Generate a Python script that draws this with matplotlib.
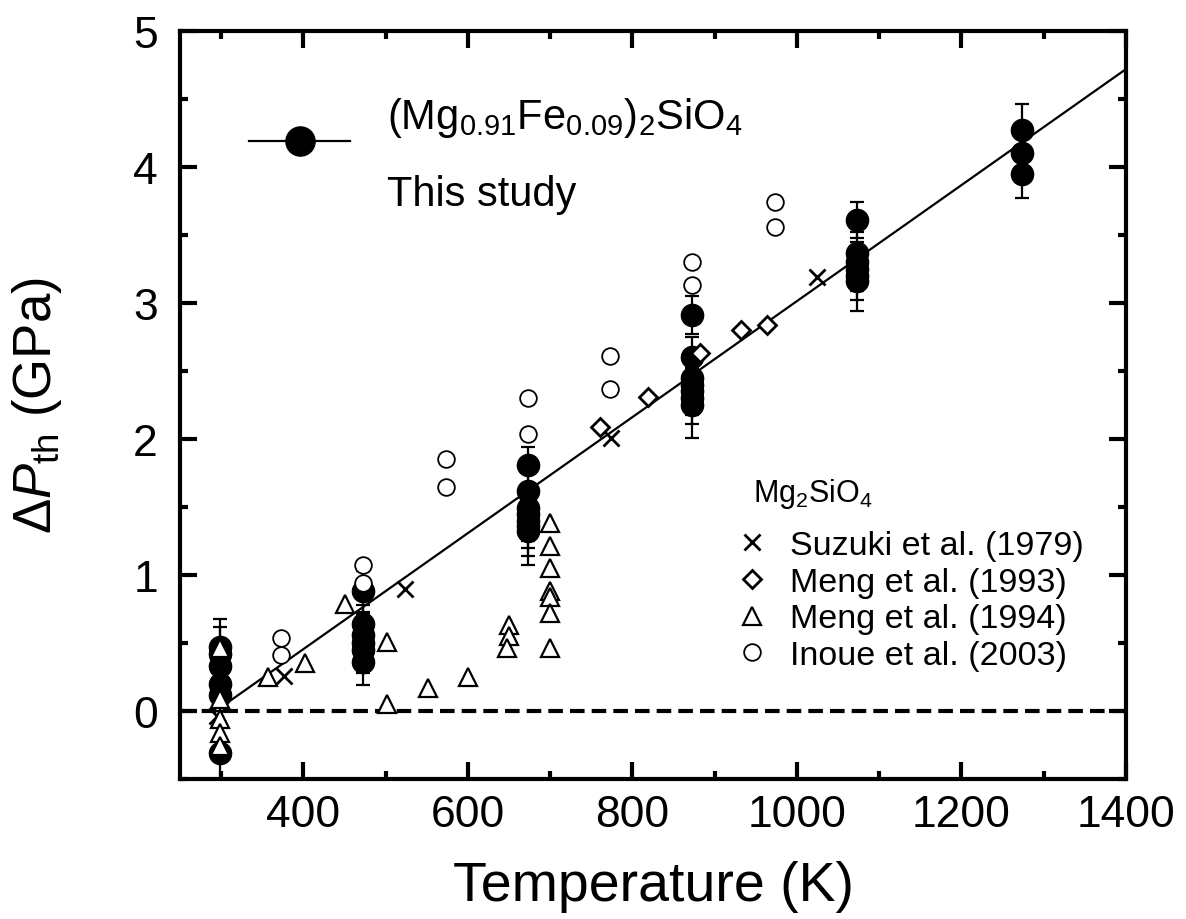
import matplotlib
matplotlib.use('Agg')
import matplotlib.pyplot as plt
import numpy as np
from matplotlib.lines import Line2D
from matplotlib.ticker import MultipleLocator

plt.rcParams['font.family'] = ['Liberation Sans', 'DejaVu Sans']
plt.rcParams['mathtext.fontset'] = 'custom'
plt.rcParams['mathtext.rm'] = 'Liberation Sans'
plt.rcParams['mathtext.it'] = 'Liberation Sans:italic'
plt.rcParams['mathtext.bf'] = 'Liberation Sans:bold'

# This study: (Mg0.91Fe0.09)2SiO4
T_this = [298] * 6 + [473] * 6 + [673] * 7 + [873] * 7 + [1073] * 6 + [1273] * 3
dP_this = [0.47, 0.42, 0.33, 0.20, 0.12, -0.31,
           0.88, 0.64, 0.56, 0.50, 0.45, 0.36,
           1.81, 1.62, 1.49, 1.45, 1.40, 1.36, 1.32,
           2.91, 2.60, 2.45, 2.40, 2.35, 2.30, 2.25,
           3.61, 3.37, 3.30, 3.25, 3.20, 3.16,
           4.27, 4.10, 3.95]
err_this = [0.21, 0.20, 0.20, 0.20, 0.20, 0.20,
            0.15, 0.14, 0.15, 0.16, 0.17, 0.17,
            0.13, 0.15, 0.15, 0.20, 0.20, 0.22, 0.25,
            0.14, 0.15, 0.15, 0.16, 0.17, 0.19, 0.24,
            0.13, 0.15, 0.15, 0.16, 0.18, 0.22,
            0.19, 0.17, 0.18]

# fitted line
fit_T = [298, 1400]
fit_slope = 0.004265
fit_icpt = 0.02

# Mg2SiO4 literature
T_suzuki = [295, 376, 524, 774, 1024]
dP_suzuki = [-0.04, 0.26, 0.90, 2.01, 3.19]

T_meng93 = [760, 819, 882, 932, 963]
dP_meng93 = [2.09, 2.31, 2.63, 2.80, 2.84]

T_meng94 = [298, 298, 298, 298, 298, 357, 402, 451, 502, 502, 551, 600,
            650, 650, 648, 700, 700, 700, 700, 700, 700, 700]
dP_meng94 = [0.46, 0.09, -0.06, -0.16, -0.26, 0.25, 0.35, 0.79, 0.51, 0.05,
             0.17, 0.25, 0.63, 0.55, 0.46, 1.38, 1.21, 1.05, 0.88, 0.84, 0.72, 0.46]

T_inoue = [373, 373, 473, 473, 573, 573, 673, 673, 773, 773, 873, 873, 973, 973]
dP_inoue = [0.54, 0.41, 1.07, 0.94, 1.85, 1.65, 2.30, 2.04, 2.61, 2.37,
            3.30, 3.13, 3.74, 3.56]

fig = plt.figure(figsize=(11.86, 9.2), dpi=100)
ax = fig.add_axes([0.1518, 0.1522, 0.7976, 0.8130])

# zero line and fit
ax.axhline(0, color='black', lw=3, ls=(0, (3.5, 1.7)), zorder=1)
fx = np.array(fit_T, dtype=float)
ax.plot(fx, fit_icpt + fit_slope * (fx - 298), color='black', lw=1.6, zorder=2)

# this study
ax.errorbar(T_this, dP_this, yerr=err_this, fmt='o', color='black', ms=16,
            ecolor='black', elinewidth=1.6, capsize=4.8, capthick=1.6, zorder=3)

# literature, white-filled markers drawn on top
ax.plot(T_suzuki, dP_suzuki, 'x', color='black', ms=12, mew=2, ls='none', zorder=5)
ax.plot(T_meng93, dP_meng93, 'D', mfc='white', mec='black', ms=9, mew=2, ls='none', zorder=5)
ax.plot(T_meng94, dP_meng94, '^', mfc='white', mec='black', ms=13, mew=1.6, ls='none', zorder=5)
ax.plot(T_inoue, dP_inoue, 'o', mfc='white', mec='black', ms=12, mew=1.3, ls='none', zorder=5)

ax.set_xlim(250, 1400)
ax.set_ylim(-0.5, 5)
ax.xaxis.set_major_locator(MultipleLocator(200))
ax.xaxis.set_minor_locator(MultipleLocator(100))
ax.yaxis.set_major_locator(MultipleLocator(1))
ax.yaxis.set_minor_locator(MultipleLocator(0.5))
ax.tick_params(which='both', direction='in', top=True, right=True, width=3)
ax.tick_params(which='major', length=12, labelsize=32)
ax.tick_params(which='minor', length=6)
ax.tick_params(axis='x', which='major', pad=11)
ax.tick_params(axis='y', which='major', pad=16)
for s in ax.spines.values():
    s.set_linewidth(3)

ax.set_xlabel('Temperature (K)', fontsize=40, labelpad=18)
ax.set_ylabel(r'$\Delta\mathit{P}_{\rm th}$ (GPa)', fontsize=38, labelpad=50)

# legend for this study (drawn by hand in axes fraction)
ax.plot([0.073, 0.180], [0.853, 0.853], color='black', lw=1.6,
        transform=ax.transAxes, clip_on=False)
ax.plot([0.1265], [0.853], 'o', color='black', ms=21,
        transform=ax.transAxes, clip_on=False)
ax.text(0.219, 0.871, r'(Mg$_{0.91}$Fe$_{0.09}$)$_2$SiO$_4$', transform=ax.transAxes,
        fontsize=30, ha='left', va='baseline')
ax.text(0.219, 0.768, 'This study', transform=ax.transAxes,
        fontsize=30, ha='left', va='baseline')

# legend for Mg2SiO4 data
ax.text(0.606, 0.372, r'Mg$_2$SiO$_4$', transform=ax.transAxes, fontsize=22,
        ha='left', va='baseline')
handles = [
    Line2D([], [], ls='none', marker='x', color='black', ms=12, mew=2),
    Line2D([], [], ls='none', marker='D', mfc='white', mec='black', ms=9, mew=2),
    Line2D([], [], ls='none', marker='^', mfc='white', mec='black', ms=13, mew=1.6),
    Line2D([], [], ls='none', marker='o', mfc='white', mec='black', ms=12, mew=1.3),
]
labels = ['Suzuki et al. (1979)', 'Meng et al. (1993)', 'Meng et al. (1994)',
          'Inoue et al. (2003)']
ax.legend(handles, labels, loc='upper left', bbox_to_anchor=(0.587, 0.333),
          frameon=False, fontsize=24.5, handlelength=1.0, handletextpad=0.6,
          labelspacing=0.17, borderpad=0, borderaxespad=0)

fig.savefig('out.png', dpi=100)
